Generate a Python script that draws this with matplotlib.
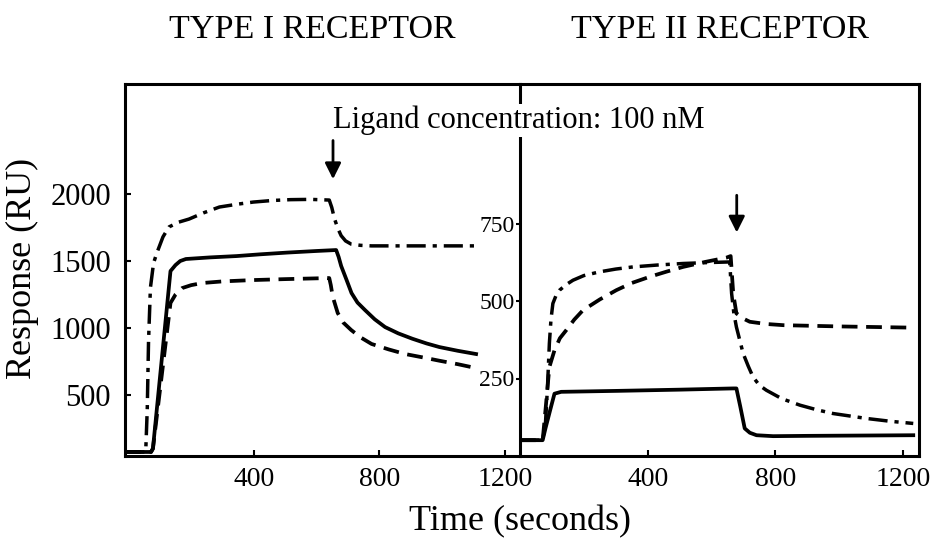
import matplotlib
matplotlib.use('Agg')
import matplotlib.pyplot as plt

plt.rcParams['font.family'] = ['Liberation Serif', 'DejaVu Serif']

# Type I receptor (left panel), time in seconds, response in RU
t1_dashdot = [-10, 55, 60, 64, 70, 80, 91, 110, 129, 160, 193, 240, 290, 350, 398, 460, 517, 580, 640, 648, 657, 668, 678, 692, 710, 740, 775, 900, 1108]
v1_dashdot = [75, 75, 400, 900, 1300, 1485, 1563, 1680, 1754, 1790, 1813, 1860, 1903, 1925, 1940, 1952, 1958, 1960, 1955, 1900, 1813, 1740, 1689, 1650, 1626, 1617, 1613, 1613, 1613]
t1_solid = [-10, 72, 78, 134, 150, 165, 183, 260, 345, 420, 506, 600, 662, 670, 678, 695, 711, 730, 754, 785, 818, 860, 905, 950, 991, 1050, 1108]
v1_solid = [75, 75, 100, 1425, 1470, 1500, 1515, 1527, 1537, 1550, 1563, 1575, 1582, 1530, 1463, 1360, 1261, 1190, 1134, 1065, 1007, 960, 920, 885, 858, 830, 806]
t1_dashed = [-10, 72, 78, 134, 150, 171, 200, 236, 300, 398, 500, 640, 645, 651, 667, 685, 710, 740, 775, 830, 882, 940, 991, 1050, 1108]
v1_dashed = [75, 75, 100, 1187, 1250, 1298, 1320, 1336, 1348, 1358, 1365, 1373, 1320, 1235, 1112, 1040, 985, 930, 881, 840, 806, 780, 756, 730, 701]

# Type II receptor (right panel)
t2_solid = [0, 71, 80, 95, 108, 129, 300, 500, 668, 678, 690, 704, 720, 741, 793, 900, 1232]
v2_solid = [51, 51, 90, 150, 201, 207, 210, 214, 218, 218, 160, 89, 75, 67, 64, 65, 67]
t2_dashed = [0, 71, 80, 92, 108, 125, 145, 170, 197, 250, 302, 350, 406, 460, 511, 580, 647, 660, 663, 668, 678, 700, 720, 770, 825, 1000, 1232]
v2_dashed = [51, 51, 150, 287, 341, 380, 406, 440, 470, 505, 535, 558, 578, 595, 610, 626, 640, 645, 600, 524, 460, 443, 433, 426, 422, 418, 414]
t2_dashdot = [0, 71, 80, 86, 92, 97, 103, 113, 124, 145, 166, 200, 249, 300, 354, 430, 511, 590, 657, 663, 670, 678, 699, 715, 730, 750, 772, 820, 877, 930, 981, 1086, 1160, 1232]
v2_dashdot = [51, 51, 110, 220, 363, 440, 492, 518, 535, 553, 567, 582, 594, 603, 610, 616, 621, 624, 626, 524, 460, 416, 331, 290, 255, 228, 212, 185, 164, 149, 137, 121, 112, 105]

x_ticks = [400, 800, 1200]
y1_ticks = [500, 1000, 1500, 2000]
y2_ticks = [250, 500, 750]

DASHDOT = (0, (5.5, 2, 1.2, 2))
DASHED = (0, (4.2, 2.3))
LW = 2.5

fig = plt.figure(figsize=(9.3, 5.48), dpi=100)
ax1 = fig.add_axes([125 / 930, 1 - 456 / 548, 395 / 930, 372 / 548])
ax2 = fig.add_axes([520 / 930, 1 - 456 / 548, 399 / 930, 372 / 548])

ax1.plot(t1_dashdot, v1_dashdot, color='black', lw=LW, linestyle=DASHDOT)
ax1.plot(t1_solid, v1_solid, color='black', lw=LW + 0.2)
ax1.plot(t1_dashed, v1_dashed, color='black', lw=LW + 0.2, linestyle=DASHED)
ax1.set_xlim(-11, 1248)
ax1.set_ylim(45, 2821)
ax1.set_xticks(x_ticks)
ax1.set_yticks(y1_ticks)
ax1.tick_params(axis='x', direction='in', length=4, width=1.5, labelsize=20, pad=8)
ax1.tick_params(axis='y', direction='in', length=4, width=1.5, labelsize=22, pad=10)

ax2.plot(t2_solid, v2_solid, color='black', lw=LW + 0.2)
ax2.plot(t2_dashed, v2_dashed, color='black', lw=LW + 0.2, linestyle=DASHED)
ax2.plot(t2_dashdot, v2_dashdot, color='black', lw=LW, linestyle=DASHDOT)
ax2.set_xlim(0, 1250)
ax2.set_ylim(0, 1200)
ax2.set_xticks(x_ticks)
ax2.set_yticks(y2_ticks)
ax2.tick_params(axis='x', direction='in', length=4, width=1.5, labelsize=20, pad=8)
ax2.tick_params(axis='y', direction='out', length=3, width=1.5, labelsize=17, pad=1)

for ax in (ax1, ax2):
    for s in ax.spines.values():
        s.set_linewidth(2.2)
ax1.spines['right'].set_visible(False)

# arrows marking the end of ligand injection
ax1.annotate('', xy=(652, 2090), xytext=(652, 2420),
             arrowprops=dict(arrowstyle='-|>', color='black', lw=2, mutation_scale=24))
ax2.annotate('', xy=(679, 712), xytext=(679, 850),
             arrowprops=dict(arrowstyle='-|>', color='black', lw=2, mutation_scale=24))

fig.text(333 / 930, 1 - 128 / 548, 'Ligand concentration: 100 nM', fontsize=22,
         ha='left', va='baseline', zorder=10,
         bbox=dict(facecolor='white', edgecolor='none', pad=1))

fig.text(312 / 930, 1 - 30 / 548, 'TYPE I RECEPTOR', fontsize=24.5, ha='center', va='center')
fig.text(720 / 930, 1 - 30 / 548, 'TYPE II RECEPTOR', fontsize=24.5, ha='center', va='center')
fig.text(520 / 930, 1 - 522 / 548, 'Time (seconds)', fontsize=26, ha='center', va='center')
fig.text(22 / 930, 1 - 268 / 548, 'Response (RU)', fontsize=26, rotation=90,
         ha='center', va='center')

fig.savefig('out.png', dpi=100)
